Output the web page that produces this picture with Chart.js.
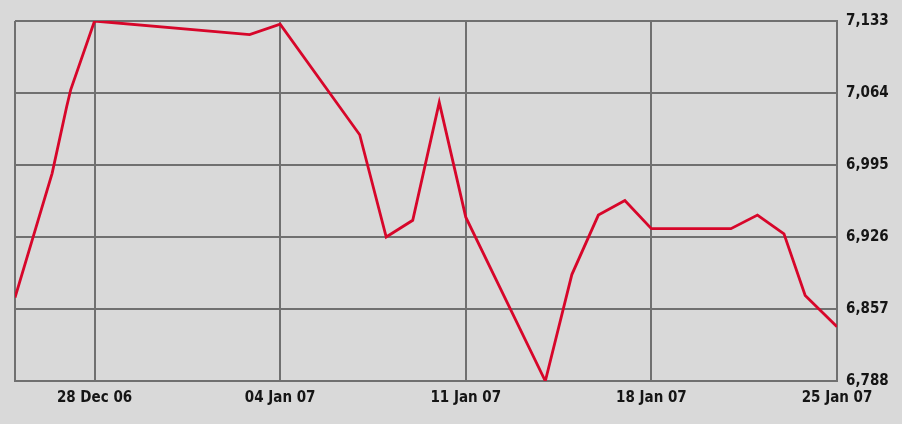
<!DOCTYPE html>
<html>
<head>
    <title>Index</title>
    <script src="https://cdn.jsdelivr.net/npm/chart.js"></script>
    <style>
        body { margin: 0; background: #d9d9d9; }
    </style>
</head>
<body>
<canvas id="Line" width="902" height="424"></canvas>
<script>
    // days since 25 Dec 06
    const day_offsets = [0, 1.4, 1.95, 2.1, 3, 8.85, 10, 13, 14, 15, 16, 17, 20, 21, 22, 23, 24, 27, 28, 29, 29.8, 31];
    const index_values = [6868, 6987, 7051, 7067, 7133, 7120, 7130, 7024, 6926, 6942, 7055, 6945, 6788, 6890, 6947, 6961, 6934, 6934, 6947, 6929, 6870, 6840];

    const x_tick_days = [0, 3, 10, 17, 24, 31];
    const x_tick_labels = ['', '28 Dec 06', '04 Jan 07', '11 Jan 07', '18 Jan 07', '25 Jan 07'];
    const y_tick_values = [6788, 6857, 6926, 6995, 7064, 7133];

    const grid_color = '#707070';
    const label_font = {family: "'Liberation Sans Narrow', 'Arial Narrow', 'DejaVu Sans Condensed', sans-serif", size: 15, weight: 'bold'};

    const background = {
        id: 'background',
        beforeDraw(chart) {
            const ctx = chart.ctx;
            ctx.save();
            ctx.fillStyle = '#d9d9d9';
            ctx.fillRect(0, 0, chart.width, chart.height);
            ctx.restore();
        }
    };

    const points = day_offsets.map((d, i) => ({x: d, y: index_values[i]}));

    new Chart(document.getElementById('Line'), {
        type: 'line',
        data: {
            datasets: [{
                data: points,
                borderColor: '#d7062a',
                borderWidth: 2.8,
                pointRadius: 0,
                tension: 0,
                fill: false
            }]
        },
        options: {
            responsive: false,
            animation: false,
            layout: {padding: {left: 15, top: 21, right: 0, bottom: 0}},
            plugins: {legend: {display: false}, tooltip: {enabled: false}},
            scales: {
                x: {
                    type: 'linear',
                    min: 0,
                    max: 31,
                    afterBuildTicks: axis => { axis.ticks = x_tick_days.map(v => ({value: v})); },
                    afterFit: axis => { axis.height = 43; },
                    ticks: {
                        autoSkip: false,
                        maxRotation: 0,
                        padding: 8,
                        color: '#151515',
                        font: label_font,
                        callback: v => x_tick_labels[x_tick_days.indexOf(v)]
                    },
                    grid: {color: grid_color, lineWidth: 2, drawTicks: false},
                    border: {color: grid_color, width: 2}
                },
                y: {
                    position: 'right',
                    min: 6788,
                    max: 7133,
                    afterBuildTicks: axis => { axis.ticks = y_tick_values.map(v => ({value: v})); },
                    afterFit: axis => { axis.width = 65; },
                    ticks: {
                        padding: 9,
                        color: '#151515',
                        font: label_font,
                        callback: v => v.toLocaleString('en-US')
                    },
                    grid: {color: grid_color, lineWidth: 2, drawTicks: false},
                    border: {color: grid_color, width: 2}
                }
            }
        },
        plugins: [background]
    });
</script>
</body>
</html>
